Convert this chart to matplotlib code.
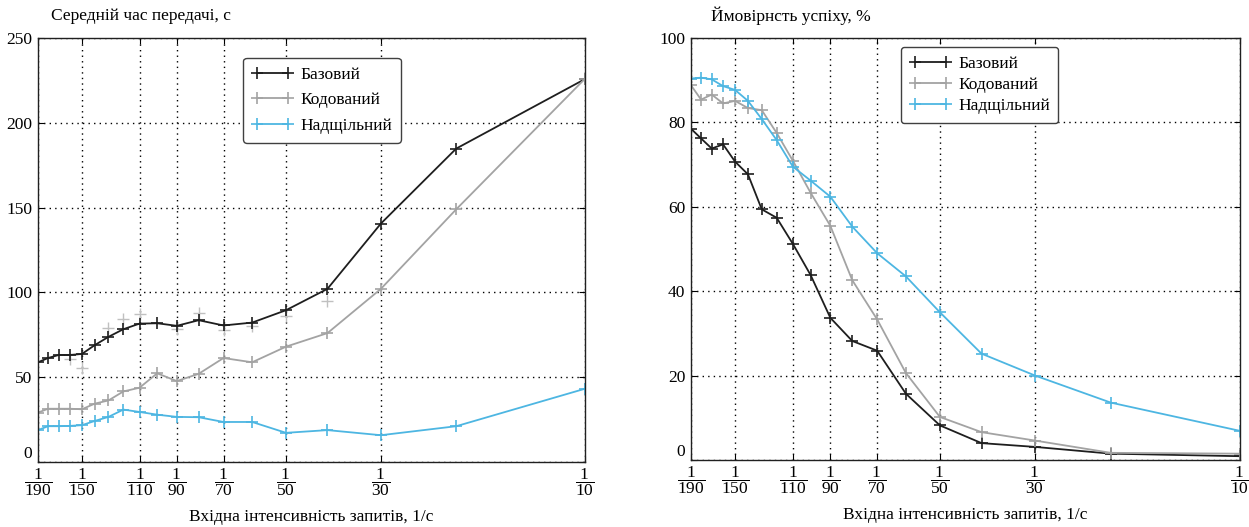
import numpy as np
import matplotlib
matplotlib.use('Agg')
import matplotlib.pyplot as plt
from matplotlib.ticker import FixedLocator, NullLocator, FixedFormatter

plt.rcParams['font.family'] = ['Liberation Serif', 'DejaVu Serif']
plt.rcParams['mathtext.fontset'] = 'custom'
plt.rcParams['mathtext.rm'] = 'Liberation Serif'
plt.rcParams['mathtext.it'] = 'Liberation Serif:italic'

# Period between requests, s (x axis is the intensity 1/T)
periods = [190, 180, 170, 160, 150, 140, 130, 120, 110, 100, 90, 80, 70, 60, 50, 40, 30, 20, 10]
tick_periods = [190, 150, 110, 90, 70, 50, 30, 10]
series_names = ['Базовий', 'Кодований', 'Надщільний']

# Left panel: mean transfer time, s
time_base = [58.8, 61.3, 63.1, 63.1, 63.7, 68.9, 73.8, 78.3, 81.6, 81.8, 80.3, 83.6, 80.5,
             82.2, 89.5, 102.1, 140.6, 184.8, 225.8]
time_coded = [29.1, 31.4, 31.4, 31.4, 31.1, 34.4, 36.3, 41.6, 43.8, 52.3, 47.7, 52.0, 61.3,
              58.8, 68.0, 76.0, 102.1, 149.0, 226.0]
time_dense = [18.8, 21.1, 21.1, 21.3, 21.7, 24.2, 26.6, 30.9, 29.5, 27.9, 26.6, 26.4, 23.6,
              23.6, 17.2, 18.8, 15.8, 21.1, 43.2]
# stray light-grey markers near the base curve
stray_periods = [160, 150, 130, 120, 110, 90, 80, 70, 60, 50, 40]
stray_values = [60.7, 55.3, 79.3, 84.6, 87.5, 78.7, 88.1, 77.6, 80.2, 86.1, 94.9]

# Right panel: success probability, %
prob_base = [78.5, 76.2, 73.8, 74.8, 70.7, 67.7, 59.4, 57.4, 51.2, 43.8, 33.7, 28.2, 25.9,
             15.7, 8.2, 4.0, 3.1, 1.5, 0.9]
prob_coded = [88.8, 85.4, 86.6, 84.5, 85.1, 83.4, 82.9, 77.5, 70.9, 63.3, 55.5, 42.6, 33.3,
              20.6, 10.2, 6.6, 4.6, 1.7, 1.5]
prob_dense = [90.4, 90.6, 90.2, 88.6, 87.7, 85.1, 80.8, 75.8, 69.5, 66.2, 62.4, 55.3, 49.0,
              43.5, 35.0, 25.2, 20.0, 13.6, 6.9]

colors = ['#1e1e1e', '#a3a3a3', '#4db6e2']
x = 1.0 / np.array(periods)

fig = plt.figure(figsize=(12.49, 5.27), dpi=100)
ax1 = fig.add_axes([38 / 1249, 65 / 527, 547 / 1249, 424 / 527])
ax2 = fig.add_axes([691 / 1249, 67 / 527, 549 / 1249, 422 / 527])


def style_axes(ax, yticks, ylim):
    ax.set_xscale('log')
    ax.set_xlim(1 / 190, 1 / 10)
    ax.set_ylim(*ylim)
    ax.xaxis.set_major_locator(FixedLocator([1 / p for p in tick_periods]))
    ax.xaxis.set_major_formatter(FixedFormatter([r'$\dfrac{1}{%d}$' % p for p in tick_periods]))
    ax.xaxis.set_minor_locator(NullLocator())
    ax.set_yticks(yticks)
    ax.tick_params(direction='in', top=True, right=True, length=4, labelsize=12.5, pad=4)
    ax.tick_params(axis='x', pad=3)
    ax.yaxis.get_major_ticks()[0].label1.set_verticalalignment('bottom')
    ax.grid(True, color='black', linestyle=(0, (1, 3)), linewidth=1.0)
    for s in ax.spines.values():
        s.set_linewidth(1.0)
        s.set_color('#202020')
    ax.set_xlabel('Вхідна інтенсивність запитів, 1/с', fontsize=12.5, labelpad=8)


style_axes(ax1, [0, 50, 100, 150, 200, 250], (0, 250))
style_axes(ax2, [0, 20, 40, 60, 80, 100], (0, 100))

ax1.plot(1.0 / np.array(stray_periods), stray_values, linestyle='none', marker='+',
         markersize=8, color='#c0c0c0', markeredgewidth=1.0)
for vals, name, c in zip([time_base, time_coded, time_dense], series_names, colors):
    ax1.plot(x, vals, color=c, marker='+', markersize=8, linewidth=1.3,
             markeredgewidth=1.2, label=name)
for vals, name, c in zip([prob_base, prob_coded, prob_dense], series_names, colors):
    ax2.plot(x, vals, color=c, marker='+', markersize=8, linewidth=1.3,
             markeredgewidth=1.2, label=name)

leg_kw = dict(loc='upper left', numpoints=2, handlelength=2.4, fontsize=12.5,
              fancybox=True, framealpha=1, edgecolor='#404040', borderaxespad=0,
              handletextpad=0.4, borderpad=0.5)
leg1 = ax1.legend(bbox_to_anchor=(0.375, 0.953), labelspacing=0.55, **leg_kw)
leg2 = ax2.legend(bbox_to_anchor=(0.382, 0.979), labelspacing=0.3, **leg_kw)
for leg in (leg1, leg2):
    leg.get_frame().set_linewidth(1.0)

fig.text(51 / 1249, 1 - 16 / 527, 'Середній час передачі, с', fontsize=12.5, va='center', ha='left')
fig.text(711 / 1249, 1 - 16 / 527, 'Ймовірнсть успіху, %', fontsize=12.5, va='center', ha='left')

fig.savefig('out.png', dpi=100)
